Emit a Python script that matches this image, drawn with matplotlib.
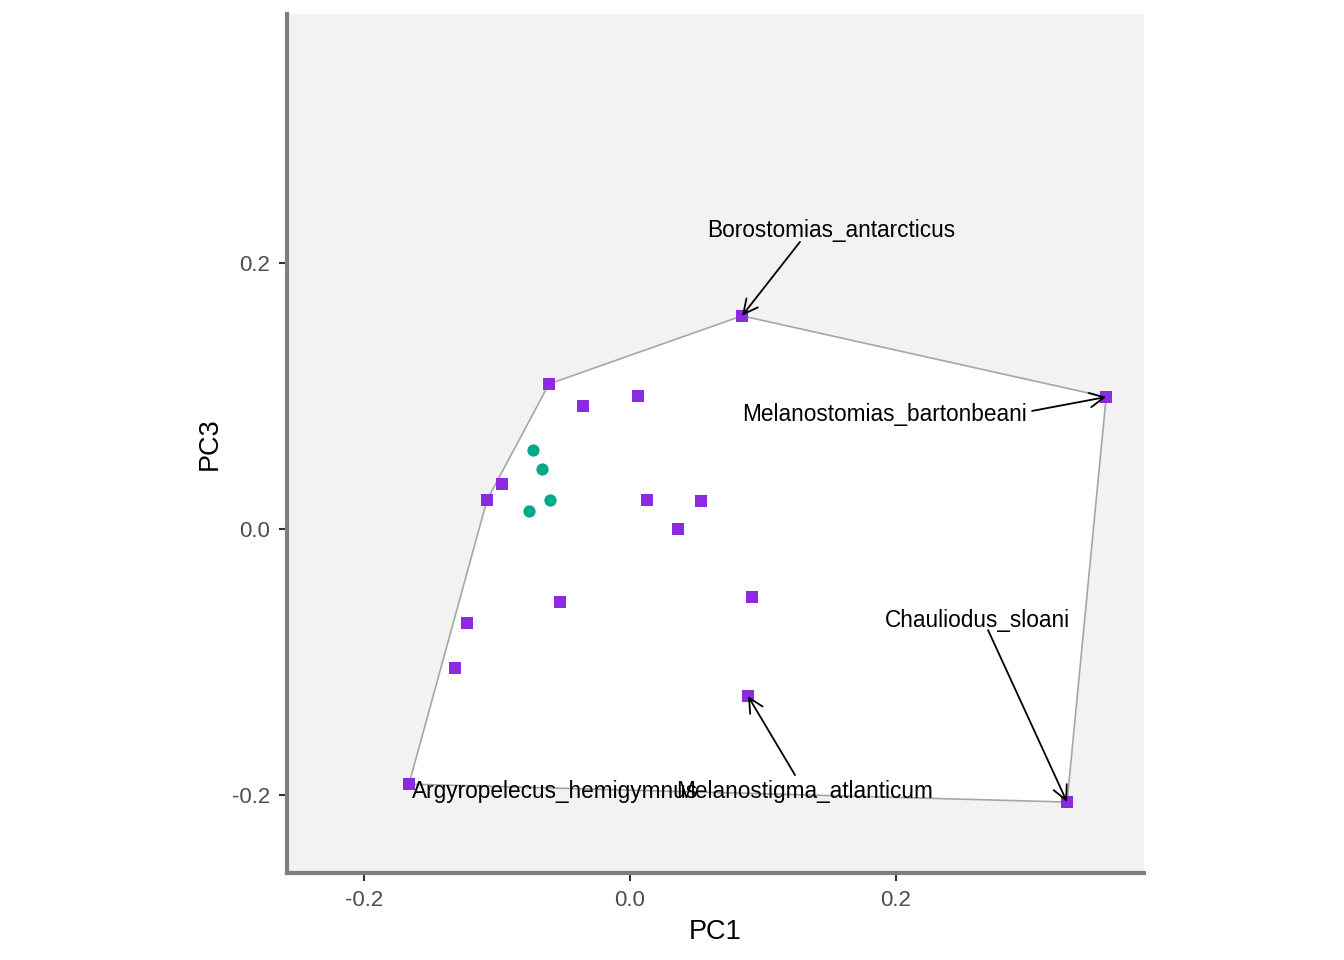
import numpy as np
import matplotlib
matplotlib.use('Agg')
import matplotlib.pyplot as plt

plt.rcParams['font.family'] = ['Liberation Sans', 'DejaVu Sans']

# groupe 1 (carrés violets)
pc1_a = [0.0842, 0.358, -0.0609, -0.0353, 0.006, -0.0962, -0.1075, 0.0128,
         0.0534, 0.0361, -0.0526, 0.0917, -0.1226, -0.1316, 0.0887, -0.1662, 0.3286]
pc3_a = [0.1605, 0.0994, 0.1092, 0.0927, 0.1002, 0.0339, 0.0218, 0.0218,
         0.0211, 0.0, -0.055, -0.0512, -0.0708, -0.1047, -0.1258, -0.1921, -0.2056]

# groupe 2 (cercles verts)
pc1_b = [-0.0729, -0.0662, -0.0602, -0.0759]
pc3_b = [0.0595, 0.0452, 0.0218, 0.0136]

# espèces annotées : (nom, index dans groupe 1)
noms = ['Borostomias_antarcticus', 'Melanostomias_bartonbeani', 'Chauliodus_sloani',
        'Melanostigma_atlanticum', 'Argyropelecus_hemigymnus']
idx_noms = [0, 1, 16, 14, 15]
pos_texte = [(0.1511, 0.2245), (0.191, 0.086), (0.2609, -0.0692),
             (0.1316, -0.198), (-0.0564, -0.198)]
debut_fleche = [(0.1278, 0.2162), (0.3023, 0.0889), (0.2692, -0.0761),
                (0.1241, -0.1853), None]

xticks = [-0.2, 0.0, 0.2]
yticks = [-0.2, 0.0, 0.2]


def enveloppe(points):
    pts = sorted(set(points))
    def cross(o, a, b):
        return (a[0]-o[0])*(b[1]-o[1]) - (a[1]-o[1])*(b[0]-o[0])
    bas = []
    for p in pts:
        while len(bas) >= 2 and cross(bas[-2], bas[-1], p) <= 0:
            bas.pop()
        bas.append(p)
    haut = []
    for p in reversed(pts):
        while len(haut) >= 2 and cross(haut[-2], haut[-1], p) <= 0:
            haut.pop()
        haut.append(p)
    return bas[:-1] + haut[:-1]


fig = plt.figure(figsize=(13.44, 9.6), dpi=100)
ax = fig.add_axes([287/1344, 1-873/960, (1144-287)/1344, (873-14)/960])
ax.set_facecolor('#F2F2F2')

hull = np.array(enveloppe(list(zip(pc1_a + pc1_b, pc3_a + pc3_b))))
ax.fill(hull[:, 0], hull[:, 1], facecolor='white', edgecolor='#A6A6A6', linewidth=1.2, zorder=1)

ax.scatter(pc1_a, pc3_a, marker='s', s=72, color='#8A2BE2', linewidths=0, zorder=3)
ax.scatter(pc1_b, pc3_b, marker='o', s=78, color='#00A88C', linewidths=0, zorder=3)

for nom, i, (tx, ty), deb in zip(noms, idx_noms, pos_texte, debut_fleche):
    ax.text(tx, ty, nom, fontsize=16.3, ha='center', va='center', color='black', zorder=4)
    if deb is not None:
        ax.annotate('', xy=(pc1_a[i], pc3_a[i]), xytext=deb,
                    arrowprops=dict(arrowstyle='->', color='black', lw=1.3,
                                    shrinkA=0, shrinkB=0, mutation_scale=26),
                    zorder=4)

ax.set_xlim((287-630)/1330, (1144-630)/1330)
ax.set_ylim((529-873)/1328, (529-14)/1328)
ax.set_xticks(xticks)
ax.set_yticks(yticks)
ax.set_xticklabels(['%.1f' % v for v in xticks])
ax.set_yticklabels(['%.1f' % v for v in yticks])
ax.tick_params(colors='#333333', labelcolor='#4D4D4D', labelsize=16,
               length=6, width=1.5, pad=6)

for cote in ['top', 'right']:
    ax.spines[cote].set_visible(False)
for cote in ['left', 'bottom']:
    ax.spines[cote].set_color('#7F7F7F')
    ax.spines[cote].set_linewidth(3)

ax.set_xlabel('PC1', fontsize=19.5, labelpad=6)
ax.set_ylabel('PC3', fontsize=19.5, labelpad=7)

fig.savefig('out.png', dpi=100)
